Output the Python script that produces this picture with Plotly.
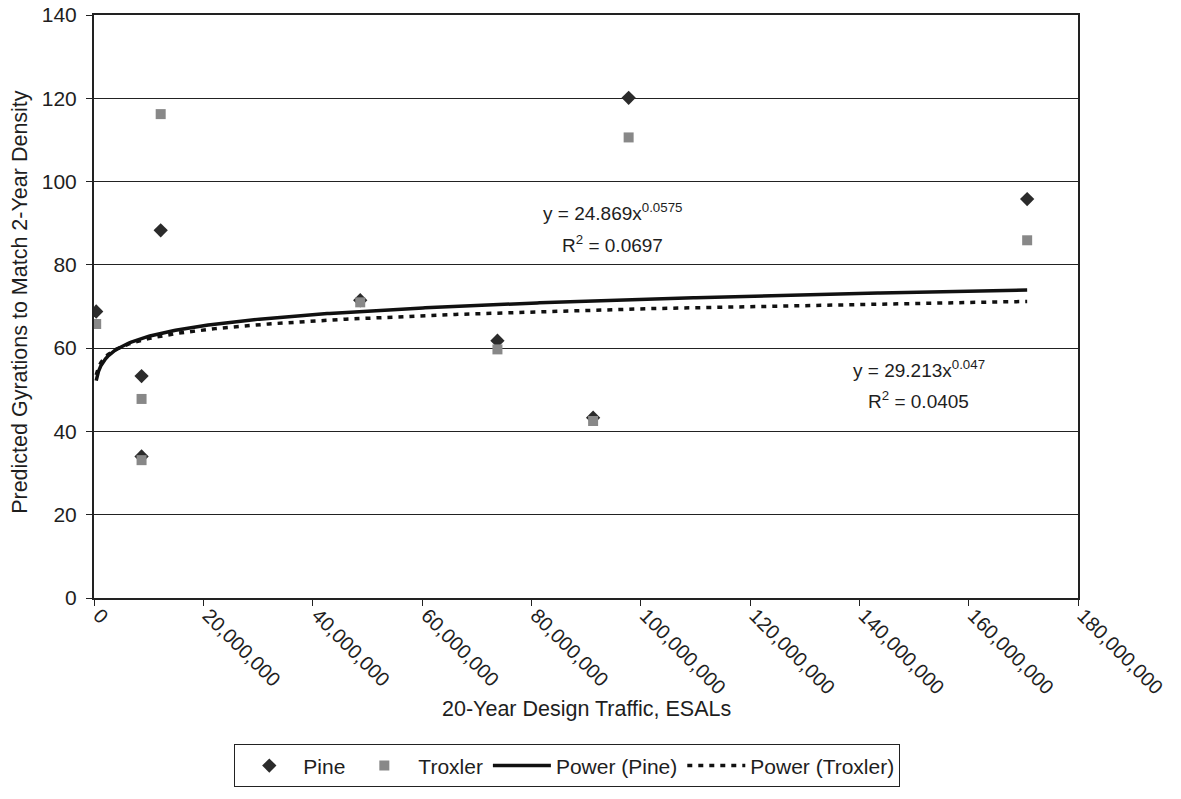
import numpy as np
import plotly.graph_objects as go

# Data
esals = [0.4e6, 8.7e6, 8.7e6, 12.2e6, 48.7e6, 73.8e6, 91.3e6, 97.8e6, 170.7e6]
pine = [68.8, 53.3, 34.0, 88.3, 71.5, 61.8, 43.3, 120.1, 95.8]
troxler = [65.8, 47.8, 33.1, 116.2, 71.0, 59.7, 42.5, 110.6, 85.9]

# Power trendline coefficients (shown on the chart)
pine_a, pine_b, pine_r2 = 24.869, 0.0575, 0.0697
trox_a, trox_b, trox_r2 = 29.213, 0.047, 0.0405

x_ticks = list(range(0, 180_000_001, 20_000_000))
y_ticks = list(range(0, 141, 20))

x_title = "20-Year Design Traffic, ESALs"
y_title = "Predicted Gyrations to Match 2-Year Density"

xs = np.linspace(min(esals), max(esals), 400)
pine_fit = pine_a * xs ** pine_b
trox_fit = trox_a * xs ** trox_b

FONT = "Liberation Sans, Arial, sans-serif"
TXT = "#1e1e1e"

fig = go.Figure()
fig.add_trace(go.Scatter(x=esals, y=pine, mode="markers", name="Pine",
                         marker=dict(symbol="diamond", size=11, color="#2b2b2b")))
fig.add_trace(go.Scatter(x=esals, y=troxler, mode="markers", name="Troxler",
                         marker=dict(symbol="square", size=10, color="#888888")))
fig.add_trace(go.Scatter(x=xs, y=pine_fit, mode="lines", name="Power (Pine)",
                         line=dict(color="#111111", width=3.5)))
fig.add_trace(go.Scatter(x=xs, y=trox_fit, mode="lines", name="Power (Troxler)",
                         line=dict(color="#111111", width=3.5, dash="5px,6px")))

afont = dict(family=FONT, size=19, color=TXT)
# trendline equation labels (two lines each)
fig.add_annotation(x=94.8e6, y=92.6, xref="x", yref="y", showarrow=False,
                   text=f"y = {pine_a}x<sup>{pine_b}</sup>", font=afont)
fig.add_annotation(x=94.8e6, y=84.9, xref="x", yref="y", showarrow=False,
                   text=f"R<sup>2</sup> = {pine_r2}", font=afont)
fig.add_annotation(x=150.9e6, y=55.0, xref="x", yref="y", showarrow=False,
                   text=f"y = {trox_a}x<sup>{trox_b}</sup>", font=afont)
fig.add_annotation(x=150.9e6, y=47.6, xref="x", yref="y", showarrow=False,
                   text=f"R<sup>2</sup> = {trox_r2}", font=afont)

# axis titles
fig.add_annotation(x=0.5, y=-0.19, xref="paper", yref="paper", showarrow=False,
                   xanchor="center", yanchor="middle", text=x_title,
                   font=dict(family=FONT, size=21.5, color=TXT))
fig.add_annotation(x=-0.0752, y=0.508, xref="paper", yref="paper", showarrow=False,
                   xanchor="center", yanchor="middle", text=y_title, textangle=-90,
                   font=dict(family=FONT, size=21.5, color=TXT))

fig.update_layout(
    width=1181, height=799,
    margin=dict(l=94, r=103, t=15, b=194),
    paper_bgcolor="white", plot_bgcolor="white",
    font=dict(family=FONT, size=21, color=TXT),
    showlegend=True,
    legend=dict(orientation="h", x=0.481, xanchor="center", y=-0.288, yanchor="middle",
                bordercolor="#222", borderwidth=1, font=dict(size=21),
                itemwidth=58, tracegroupgap=0),
    xaxis=dict(range=[0, 180_000_000], tickvals=x_ticks, tickformat=",d",
               tickangle=45, showgrid=False, zeroline=False, automargin=False,
               showline=True, linecolor="#222", linewidth=2, mirror=True,
               ticks="outside", ticklen=6, tickcolor="#222",
               ticklabelstandoff=-10, ticklabelshift=5,
               ticklabeloverflow="allow", tickfont=dict(size=20)),
    yaxis=dict(range=[0, 140], tickvals=y_ticks, showgrid=True, gridcolor="#222", gridwidth=1,
               zeroline=False, showline=True, linecolor="#222", linewidth=2, mirror=True,
               automargin=False, ticklabelstandoff=5, ticklabeloverflow="allow",
               ticks="outside", ticklen=6, tickcolor="#222", tickfont=dict(size=21)),
)

fig.write_html("out.html", config={"displayModeBar": False},
               post_script="document.body.style.margin='0';")
